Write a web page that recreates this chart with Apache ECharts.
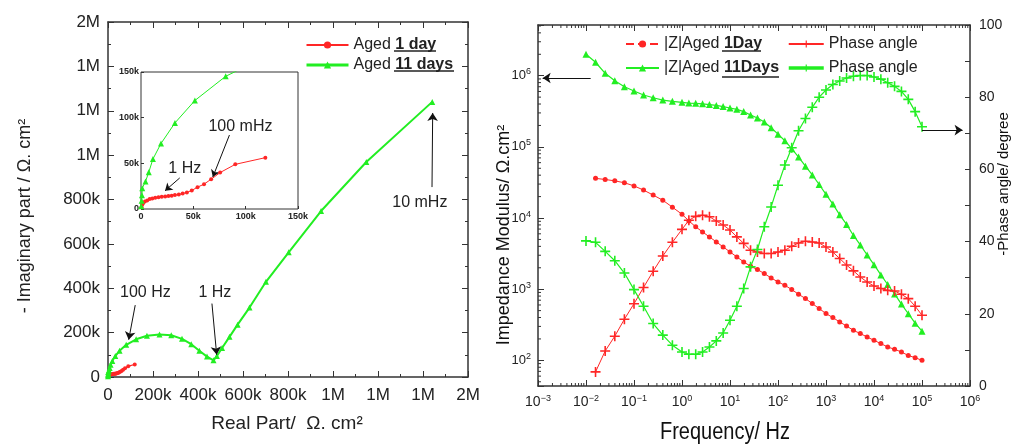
<!DOCTYPE html>
<html>
<head>
<meta charset="utf-8">
<script src="https://cdn.jsdelivr.net/npm/echarts@6/dist/echarts.min.js"></script>
<style>
  html, body { margin: 0; padding: 0; background: #fff; }
  #chart { width: 1012px; height: 445px; }
</style>
</head>
<body>
<div id="chart"></div>
<script>
// Nyquist data (real part, -imaginary part), ohm.cm2
var nyq1Re = [500, 1200, 2200, 3700, 5900, 8300, 10800, 13600, 16700, 19800, 23100, 26200, 29300, 32400, 36100, 39800, 43800, 48500, 54000, 60200, 67000, 75600, 90100, 118800];
var nyq1Im = [2000, 4700, 6500, 8300, 9400, 10900, 11600, 12300, 13000, 13400, 13800, 14100, 14500, 15200, 15900, 17000, 18100, 20300, 23900, 27200, 32600, 39900, 48900, 56200];
var nyq11Re = [200, 600, 900, 1200, 4300, 7400, 11400, 19100, 32400, 51500, 80900, 125000, 173000, 229000, 281000, 329000, 370000, 406000, 440000, 469000, 484000, 507000, 540000, 576000, 629000, 702000, 803000, 947000, 1148000, 1441000];
var nyq11Im = [3000, 9000, 15000, 22800, 30100, 40200, 54700, 71700, 94200, 118800, 145300, 170000, 186000, 192000, 188000, 172000, 148000, 118000, 92000, 75000, 95000, 131000, 181000, 236000, 313000, 429000, 562000, 748000, 969000, 1240000];

// Bode data
var freq = [0.01, 0.0158, 0.0251, 0.0398, 0.0631, 0.1, 0.158, 0.251, 0.398, 0.631,
  1, 1.39, 1.93, 2.68, 3.73, 5.18, 7.2, 10, 13.9, 19.3, 26.8, 37.3, 51.8, 72,
  100, 139, 193, 268, 373, 518, 720, 1000, 1390, 1930, 2680, 3730, 5180, 7200,
  10000, 13900, 19300, 26800, 37300, 51800, 72000, 100000];
var z1 = [null, 36100, 34800, 33300, 31300, 28300, 24700, 21000, 17800, 14200,
  11300, 9120, 7520, 6380, 5430, 4620, 3930, 3340, 2840, 2420, 2100, 1888, 1660, 1439,
  1265, 1135, 989, 849, 738, 628, 535, 454, 399, 346, 304, 264, 238, 213,
  191, 172, 154, 143, 131, 117, 109, 100];
var phase1 = [null, 3.9, 9.7, 13.8, 18.5, 22.8, 27.3, 31.8, 36.0, 39.8,
  43.4, 45.9, 47.0, 47.3, 46.9, 45.7, 44.6, 43.2, 41.3, 39.5, 37.6, 37.1, 36.7, 36.7,
  37.1, 37.6, 38.7, 39.6, 40.1, 39.9, 39.6, 38.5, 37.1, 35.3, 33.5, 31.9, 30.2, 28.8,
  27.7, 27.0, 26.5, 26.3, 25.4, 24.2, 22.1, 19.6];
var z11 = [2000000, 1545000, 1080000, 851000, 700000, 610000, 535000, 490000, 455000, 437000,
  423000, 413000, 409000, 403000, 393000, 382000, 368000, 352000, 337000, 313000, 281000, 254000, 224000, 186000,
  151000, 122000, 94400, 71900, 53500, 40300, 29600, 21500, 15700, 11100, 8130, 5690, 4190, 3020,
  2210, 1585, 1164, 857, 617, 452, 333, 257];
var phase11 = [40.2, 39.8, 37.3, 34.7, 31.3, 26.7, 22.1, 17.3, 14.1, 11.3,
  9.4, 8.8, 8.8, 9.4, 10.8, 12.5, 14.7, 18.2, 22.1, 27.0, 33.0, 37.8, 44.1, 49.6,
  55.6, 61.2, 66.0, 70.7, 74.1, 77.2, 80.0, 82.0, 83.5, 84.5, 85.3, 85.8, 86.0, 86.0,
  85.6, 85.0, 84.0, 83.0, 81.6, 79.4, 76.0, 71.8];

var RED = '#ff2626';
var GREEN = '#22ee22';
var AXIS = '#333';
var FONT = 'Liberation Sans, Arial, sans-serif';
var PLUS = 'path://M4.2,0H5.8V4.2H10V5.8H5.8V10H4.2V5.8H0V4.2H4.2Z';

// right panel axis ranges
var fMin = 0.001, fMax = 1e6;
var zMin = 43.6, zMax = 5.16e6;

function pairs(xs, ys) {
  var out = [];
  for (var i = 0; i < xs.length; i++) {
    if (ys[i] != null) out.push([xs[i], ys[i]]);
  }
  return out;
}

function kFmt(v) {
  if (v === 0) return '0';
  if (v >= 1e6) return Math.round(v / 1e6) + 'M';
  return Math.round(v / 1000) + 'k';
}

function powFmt(v) {
  var e = Math.log(v) / Math.LN10;
  var r = Math.round(e);
  if (Math.abs(e - r) > 1e-6) return '';
  return '10{s|' + (r < 0 ? '\u2212' + (-r) : r) + '}';
}

// log minor ticks (2..9 per decade)
var minorTicks = [];
for (var k = -3; k < 6; k++) {
  for (var m = 2; m <= 9; m++) minorTicks.push([m * Math.pow(10, k), 1000, 0]);
}
for (var k2 = 1; k2 < 7; k2++) {
  for (var m2 = 2; m2 <= 9; m2++) {
    var vv = m2 * Math.pow(10, k2);
    if (vv > zMin && vv < zMax) minorTicks.push([1, vv, 1]);
  }
}

var chart = echarts.init(document.getElementById('chart'));

var tickStyle = { color: AXIS, width: 1 };

function boxAxis(opt) {
  var base = {
    type: 'value',
    axisLine: { show: true, onZero: false, lineStyle: { color: AXIS, width: 1.5 } },
    axisTick: { show: true, inside: true, length: 6, lineStyle: tickStyle },
    minorTick: { show: true, splitNumber: 2, length: 3, lineStyle: tickStyle },
    splitLine: { show: false },
    axisLabel: { show: false }
  };
  for (var key in opt) base[key] = opt[key];
  return base;
}

var option = {
  animation: false,
  backgroundColor: '#fff',
  textStyle: { fontFamily: FONT },
  grid: [
    { left: 108, top: 22, width: 360, height: 355 },
    { left: 141, top: 72, width: 157, height: 137, show: true, backgroundColor: '#fff', borderColor: AXIS, borderWidth: 1, z: 5 },
    { left: 538, top: 25, width: 432, height: 361 }
  ],
  xAxis: [
    boxAxis({ gridIndex: 0, min: 0, max: 1600000, interval: 200000, position: 'bottom',
      axisLabel: { show: true, formatter: kFmt, margin: 10, fontSize: 17, color: '#222' } }),
    boxAxis({ gridIndex: 0, min: 0, max: 1600000, interval: 200000, position: 'top' }),
    { type: 'value', gridIndex: 1, min: 0, max: 150000, interval: 50000, z: 6,
      axisLine: { show: false }, splitLine: { show: false },
      axisTick: { show: true, inside: true, length: 3, lineStyle: tickStyle },
      axisLabel: { formatter: kFmt, fontSize: 9, fontWeight: 'bold', color: '#222', margin: 3 } },
    { type: 'log', gridIndex: 2, min: fMin, max: fMax, position: 'bottom',
      axisLine: { show: true, onZero: false, lineStyle: { color: AXIS, width: 1.5 } },
      axisTick: { show: true, inside: true, length: 6, lineStyle: tickStyle },
      splitLine: { show: false },
      axisLabel: { formatter: powFmt, margin: 8, fontSize: 14, color: '#222',
        rich: { s: { fontSize: 9, color: '#222', padding: [0, 0, 8, 0] } } } },
    { type: 'log', gridIndex: 2, min: fMin, max: fMax, position: 'top',
      axisLine: { show: true, onZero: false, lineStyle: { color: AXIS, width: 1.5 } },
      axisTick: { show: true, inside: true, length: 6, lineStyle: tickStyle },
      splitLine: { show: false }, axisLabel: { show: false } }
  ],
  yAxis: [
    boxAxis({ gridIndex: 0, min: 0, max: 1600000, interval: 200000, position: 'left',
      axisLabel: { show: true, formatter: kFmt, margin: 8, fontSize: 17, color: '#222' } }),
    boxAxis({ gridIndex: 0, min: 0, max: 1600000, interval: 200000, position: 'right' }),
    { type: 'value', gridIndex: 1, min: 0, max: 150000, interval: 50000, z: 6,
      axisLine: { show: false }, splitLine: { show: false },
      axisTick: { show: true, inside: true, length: 3, lineStyle: tickStyle },
      axisLabel: { formatter: kFmt, fontSize: 9, fontWeight: 'bold', color: '#222', margin: 2 } },
    { type: 'log', gridIndex: 2, min: zMin, max: zMax, position: 'left',
      axisLine: { show: true, onZero: false, lineStyle: { color: AXIS, width: 1.5 } },
      axisTick: { show: true, inside: true, length: 6, lineStyle: tickStyle },
      splitLine: { show: false },
      axisLabel: { formatter: powFmt, margin: 7, fontSize: 13, color: '#222',
        rich: { s: { fontSize: 9, color: '#222', padding: [0, 0, 8, 0] } } } },
    boxAxis({ gridIndex: 2, min: 0, max: 100, interval: 20, position: 'right',
      axisTick: { show: true, inside: true, length: 5, lineStyle: tickStyle },
      minorTick: { show: true, splitNumber: 2, length: 5, lineStyle: tickStyle },
      axisLabel: { show: true, margin: 9, fontSize: 14, color: '#222' } })
  ],
  legend: [
    { orient: 'vertical', left: 300, top: 32, itemWidth: 42, itemHeight: 9, itemGap: 4,
      textStyle: { fontSize: 16, color: '#222', fontFamily: FONT,
        rich: { b: { fontSize: 16, fontWeight: 'bold', color: '#222', fontFamily: FONT } } },
      formatter: function (name) {
        return name === 'Aged 1 day' ? 'Aged {b|1 day}' : 'Aged {b|11 days}';
      },
      data: [ { name: 'Aged 1 day' }, { name: 'Aged 11 days', lineStyle: { width: 3 } } ] },
    { orient: 'vertical', left: 620, top: 31, itemWidth: 33, itemHeight: 9, itemGap: 8,
      textStyle: { fontSize: 16, color: '#222', fontFamily: FONT,
        rich: { b: { fontSize: 16, fontWeight: 'bold', color: '#222', fontFamily: FONT } } },
      formatter: function (name) {
        return name === '|Z|Aged 1Day' ? '|Z|Aged {b|1Day}' : '|Z|Aged {b|11Days}';
      },
      data: [ { name: '|Z|Aged 1Day', lineStyle: { type: 'dashed' } }, { name: '|Z|Aged 11Days' } ] },
    { orient: 'vertical', left: 782, top: 31, itemWidth: 35, itemHeight: 9, itemGap: 8,
      textStyle: { fontSize: 16, color: '#222', fontFamily: FONT },
      data: [ { name: 'Phase angle' }, { name: 'Phase angle ', lineStyle: { width: 3.5 } } ] }
  ],
  graphic: [
    { type: 'text', x: 287, y: 424, style: { text: 'Real Part/  \u03a9. cm\u00b2', font: '19px ' + FONT, fill: '#222', align: 'center', verticalAlign: 'middle' } },
    { type: 'text', x: 25, y: 216, rotation: Math.PI / 2, style: { text: '- Imaginary part / \u03a9. cm\u00b2', font: '18px ' + FONT, fill: '#222', align: 'center', verticalAlign: 'middle' } },
    { type: 'text', x: 725, y: 433, scaleY: 1.15, style: { text: 'Frequency/ Hz', font: '20px ' + FONT, fill: '#111', align: 'center', verticalAlign: 'middle' } },
    { type: 'text', x: 504, y: 235, rotation: Math.PI / 2, style: { text: 'Impedance Modulus/ \u03a9.cm\u00b2', font: '18px ' + FONT, fill: '#111', align: 'center', verticalAlign: 'middle' } },
    { type: 'text', x: 1004, y: 184, rotation: Math.PI / 2, style: { text: '-Phase angle/ degree', font: '15px ' + FONT, fill: '#111', align: 'center', verticalAlign: 'middle' } },
    // underlines of the bold legend words
    { type: 'line', shape: { x1: 394, y1: 51, x2: 436, y2: 51 }, style: { stroke: '#222', lineWidth: 1.3 } },
    { type: 'line', shape: { x1: 394, y1: 71, x2: 454, y2: 71 }, style: { stroke: '#222', lineWidth: 1.3 } },
    { type: 'line', shape: { x1: 722, y1: 51, x2: 761, y2: 51 }, style: { stroke: '#222', lineWidth: 1.3 } },
    { type: 'line', shape: { x1: 722, y1: 77, x2: 779, y2: 77 }, style: { stroke: '#222', lineWidth: 1.3 } }
  ],
  series: [
    // main Nyquist
    { name: 'Aged 1 day', type: 'line', xAxisIndex: 0, yAxisIndex: 0, data: pairs(nyq1Re, nyq1Im),
      symbol: 'circle', symbolSize: 4, color: RED, lineStyle: { width: 1.2, color: RED }, itemStyle: { color: RED } },
    { name: 'Aged 11 days', type: 'line', xAxisIndex: 0, yAxisIndex: 0, data: pairs(nyq11Re, nyq11Im),
      symbol: 'triangle', symbolSize: 6, color: GREEN, lineStyle: { width: 2, color: GREEN }, itemStyle: { color: GREEN },
      markLine: { silent: true, symbol: ['none', 'arrow'], symbolSize: 8, label: { show: false },
        lineStyle: { color: '#111', width: 1, type: 'solid' },
        data: [
          [{ coord: [121000, 324000] }, { coord: [92000, 168000] }],
          [{ coord: [462000, 331000] }, { coord: [483000, 100000] }],
          [{ coord: [1440000, 856000] }, { coord: [1443000, 1190000] }]
        ] },
      markPoint: { silent: true, symbol: 'circle', symbolSize: 1, itemStyle: { color: 'rgba(0,0,0,0)' },
        label: { show: true, position: 'inside', fontSize: 16, color: '#222', fontFamily: FONT },
        data: [
          { coord: [166000, 382000], label: { formatter: '100 Hz' } },
          { coord: [475000, 382000], label: { formatter: '1 Hz' } },
          { coord: [1386000, 786000], label: { formatter: '10 mHz' } }
        ] } },
    // inset
    { name: 'inset 1 day', type: 'line', xAxisIndex: 2, yAxisIndex: 2, data: pairs(nyq1Re, nyq1Im), z: 7,
      symbol: 'circle', symbolSize: 4, lineStyle: { width: 1, color: RED }, itemStyle: { color: RED },
      markLine: { silent: true, symbol: ['none', 'arrow'], symbolSize: 7, label: { show: false },
        lineStyle: { color: '#111', width: 1, type: 'solid' },
        data: [
          [{ coord: [37000, 34000] }, { coord: [23000, 20000] }],
          [{ coord: [84500, 81000] }, { coord: [68600, 35000] }]
        ] },
      markPoint: { silent: true, symbol: 'circle', symbolSize: 1, itemStyle: { color: 'rgba(0,0,0,0)' },
        label: { show: true, position: 'inside', fontSize: 16, color: '#222', fontFamily: FONT },
        data: [
          { coord: [41800, 44000], label: { formatter: '1 Hz' } },
          { coord: [95000, 90000], label: { formatter: '100 mHz' } }
        ] } },
    { name: 'inset 11 days', type: 'line', xAxisIndex: 2, yAxisIndex: 2, data: pairs(nyq11Re, nyq11Im), z: 7,
      symbol: 'triangle', symbolSize: 6, lineStyle: { width: 1, color: GREEN }, itemStyle: { color: GREEN } },
    // Bode modulus
    { name: '|Z|Aged 1Day', type: 'line', xAxisIndex: 3, yAxisIndex: 3, data: pairs(freq, z1),
      symbol: 'circle', symbolSize: 5, color: RED, lineStyle: { width: 1, color: RED }, itemStyle: { color: RED } },
    { name: '|Z|Aged 11Days', type: 'line', xAxisIndex: 3, yAxisIndex: 3, data: pairs(freq, z11),
      symbol: 'triangle', symbolSize: 7, color: GREEN, lineStyle: { width: 1.2, color: GREEN }, itemStyle: { color: GREEN },
      markLine: { silent: true, symbol: ['none', 'arrow'], symbolSize: 8, label: { show: false },
        lineStyle: { color: '#111', width: 1.2, type: 'solid' },
        data: [ [{ coord: [0.0125, 929000] }, { coord: [0.00125, 929000] }] ] } },
    // Bode phase
    { name: 'Phase angle', type: 'line', xAxisIndex: 3, yAxisIndex: 4, data: pairs(freq, phase1),
      symbol: PLUS, symbolSize: 10, color: RED, lineStyle: { width: 1, color: RED }, itemStyle: { color: RED } },
    { name: 'Phase angle ', type: 'line', xAxisIndex: 3, yAxisIndex: 4, data: pairs(freq, phase11),
      symbol: PLUS, symbolSize: 10, color: GREEN, lineStyle: { width: 1.2, color: GREEN }, itemStyle: { color: GREEN },
      markLine: { silent: true, symbol: ['none', 'arrow'], symbolSize: 8, label: { show: false },
        lineStyle: { color: '#111', width: 1.2, type: 'solid' },
        data: [ [{ coord: [100000, 70.9] }, { coord: [700000, 70.9] }] ] } },
    // log minor ticks
    { type: 'custom', xAxisIndex: 3, yAxisIndex: 3, silent: true, clip: false, z: 3,
      encode: { x: 0, y: 1 },
      data: minorTicks,
      renderItem: function (params, api) {
        var kind = api.value(2);
        var st = { stroke: AXIS, lineWidth: 1 };
        if (kind === 0) {
          var v = api.value(0);
          var b = api.coord([v, zMin]);
          var t = api.coord([v, zMax]);
          return { type: 'group', children: [
            { type: 'line', shape: { x1: b[0], y1: b[1], x2: b[0], y2: b[1] - 3 }, style: st },
            { type: 'line', shape: { x1: t[0], y1: t[1], x2: t[0], y2: t[1] + 3 }, style: st }
          ] };
        }
        var l = api.coord([fMin, api.value(1)]);
        return { type: 'line', shape: { x1: l[0], y1: l[1], x2: l[0] + 3, y2: l[1] }, style: st };
      } }
  ]
};

chart.setOption(option);
</script>
</body>
</html>
